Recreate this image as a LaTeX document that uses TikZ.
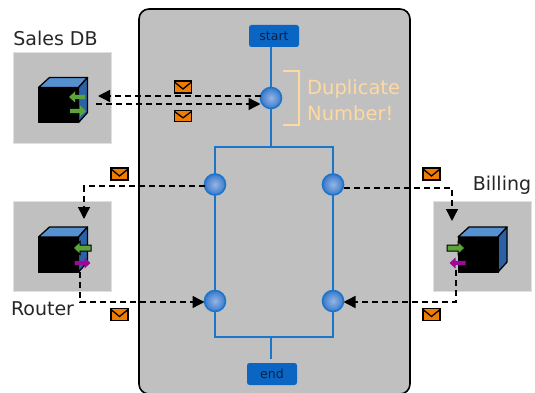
\documentclass[tikz,border=0pt]{standalone}
\usepackage{fontspec}
\setmainfont{DejaVu Sans}
\usetikzlibrary{arrows.meta,calc}
\definecolor{panelgray}{HTML}{C0C0C0}
\definecolor{flowblue}{HTML}{1B75C9}
\definecolor{termblue}{HTML}{0B66C3}
\definecolor{termtext}{HTML}{06224A}
\definecolor{peach}{HTML}{FFD9A0}
\definecolor{envorange}{HTML}{F07D00}
\definecolor{cubetop}{HTML}{5590D0}
\definecolor{cubeside}{HTML}{2A62A5}
\definecolor{siggreen}{HTML}{5CA33A}
\definecolor{sigpurple}{HTML}{9A0A96}
\definecolor{gatein}{HTML}{95B6E4}
\definecolor{gateout}{HTML}{3A78CC}
\tikzset{
  x=1pt,y=-1pt,
  panel/.style={draw=black,line width=1.6pt,fill=panelgray,rounded corners=10pt,minimum width=271pt,minimum height=385pt,inner sep=0pt,outer sep=0pt},
  sysbox/.style={draw=black!12,line width=1pt,fill=panelgray,minimum width=98pt,minimum height=90pt,inner sep=0pt,outer sep=0pt},
  term/.style={fill=termblue,rounded corners=2.5pt,minimum width=50pt,minimum height=22pt,inner sep=0pt,outer sep=0pt,text=termtext,font=\fontsize{12.5}{14}\selectfont},
  gate/.style={circle,draw=flowblue,line width=1.6pt,inner color=gatein,outer color=gateout,minimum size=21pt,inner sep=0pt,outer sep=0pt},
  flow/.style={draw=flowblue,line width=1.5pt},
  branch/.style={flow,minimum width=118pt,minimum height=190pt,inner sep=0pt,outer sep=0pt},
  msg/.style={draw=black,line width=1.4pt,dash pattern=on 6pt off 4pt},
  msgtip/.style={msg,-{Triangle[length=12pt,width=12pt,sep=0pt]}},
  syslabel/.style={font=\fontsize{19}{21}\selectfont,text=black!85,inner sep=0pt},
  warn/.style={font=\fontsize{19.5}{22}\selectfont,text=peach,inner sep=0pt,anchor=base west},
  envelope/.pic={
    \draw[fill=envorange,draw=black,line width=1.5pt] (-8.5,-6) rectangle (8.5,6);
    \draw[draw=black,line width=1.3pt] (-8.5,-5) -- (0,2) -- (8.5,-5);
  },
  cube/.pic={
    \fill[cubetop,draw=black,line width=1.3pt,line join=round] (-20,-10) -- (-9,-20) -- (29,-20) -- (20,-10) -- cycle;
    \fill[cubeside,draw=black,line width=1.3pt,line join=round] (20,-10) -- (29,-20) -- (29,15) -- (20,25) -- cycle;
    \fill[black,draw=black,line width=1pt,line join=round] (-20,-10) rectangle (20,25);
  },
  signal/.pic={
    \path[pic actions,draw=black,line width=1pt,line join=miter] (-9,-3) -- (2,-3) -- (2,-6.5) -- (9,0) -- (2,6.5) -- (2,3) -- (-9,3) -- cycle;
  },
  plainsignal/.pic={
    \path[pic actions] (-8,-2.2) -- (2,-2.2) -- (2,-5.5) -- (8,0) -- (2,5.5) -- (2,2.2) -- (-8,2.2) -- cycle;
  }
}
\begin{document}
\begin{tikzpicture}
\useasboundingbox (0,0) rectangle (535,393);
\node[panel] (pool) at (274.5,201.5) {};
\node[sysbox] (sales) at (62,98) {};
\node[sysbox] (router) at (62,246) {};
\node[sysbox] (billing) at (482,246) {};
% cubes
\pic at (58.5,97.5) {cube};
\pic at (58.5,247) {cube};
\pic at (478,247) {cube};
% cube signals
\pic[fill=siggreen,xscale=-1] at (77,97) {plainsignal};
\pic[fill=siggreen] at (78,111) {plainsignal};
\pic[fill=siggreen,xscale=-1] at (82,248) {signal};
\pic[fill=sigpurple] at (82.5,263) {plainsignal};
\pic[fill=siggreen] at (456,248) {signal};
\pic[fill=sigpurple,xscale=-1] at (457.5,263) {plainsignal};
% flow
\node[term] (start) at (274,36) {start};
\node[term] (stop) at (272,374) {end};
\node[branch,draw] (par) at (274,242) {};
\coordinate (stub) at (271,359);
\coordinate (g1pos) at (271,98);
\draw[flow] (g1pos |- start.south) -- (g1pos |- par.north);
\draw[flow] (stub |- par.south) -- (stub);
% message ends
\coordinate (salesIn) at (98,96);
\coordinate (salesOut) at (96,104);
\coordinate (routerIn) at (84,219);
\coordinate (routerOut) at (80,272);
\coordinate (billIn) at (452,221);
\coordinate (billOut) at (456,270);
\coordinate (routerBendA) at (84,186);
\coordinate (routerBendB) at (80,302);
\coordinate (billBendA) at (452,188);
\coordinate (billBendB) at (456,302);
\node[gate] (g1) at (g1pos) {};
\node[gate] (g2) at (215,184.5) {};
\node[gate] (g3) at (333,184.5) {};
\node[gate] (g4) at (215,301) {};
\node[gate] (g5) at (333,301) {};
\draw[msgtip] (g1.west |- salesIn) -- (salesIn);
\draw[msgtip] (salesOut) -- (g1.west |- salesOut);
\draw[msgtip] (g2.west |- routerBendA) -- (routerBendA) -- (routerIn);
\draw[msgtip] (routerOut) -- (routerBendB) -- (g4.west |- routerBendB);
\draw[msgtip] (g3.east |- billBendA) -- (billBendA) -- (billIn);
\draw[msgtip] (billOut) -- (billBendB) -- (g5.east |- billBendB);
% envelopes
\pic at (183,87) {envelope};
\pic[yscale=0.9] at (183,116) {envelope};
\pic at (119.5,174) {envelope};
\pic at (119.5,314.5) {envelope};
\pic at (431.5,174) {envelope};
\pic at (431.5,314.5) {envelope};
% warning
\coordinate (brA) at (283,71);
\coordinate (brB) at (299,71);
\coordinate (brC) at (299,125);
\coordinate (brD) at (283,125);
\draw[draw=peach,line width=1.5pt] (brA) -- (brB) -- (brC) -- (brD);
\node[warn] (w1) at (307,95) {Duplicate};
\node[warn] (w2) at (307,120.5) {Number!};
% labels
\node[syslabel] (lsales) at (55.5,38.5) {Sales DB};
\node[syslabel] (lrouter) at (42.5,309) {Router};
\node[syslabel] (lbilling) at (502,185) {Billing};
\end{tikzpicture}
\end{document}
